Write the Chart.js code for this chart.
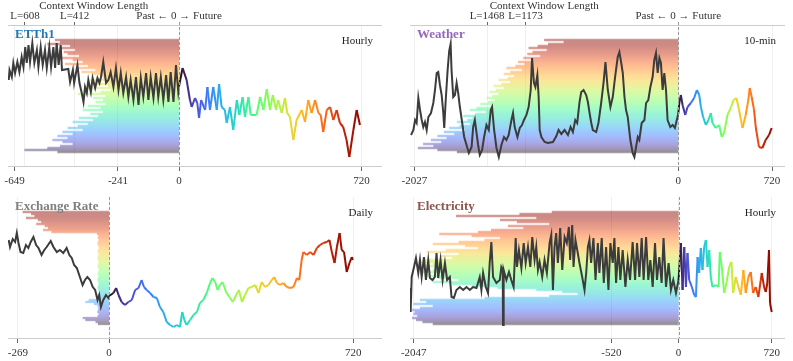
<!DOCTYPE html>
<html>
<head>
<meta charset="utf-8">
<script src="https://cdn.jsdelivr.net/npm/chart.js@4.4.1/dist/chart.umd.min.js"></script>
<style>
  body { margin: 0; background: #fff; }
  #wrap { position: relative; width: 793px; height: 361px; overflow: hidden; }
  canvas { position: absolute; }
</style>
</head>
<body>
<div id="wrap">
  <canvas id="c1" width="396" height="190" style="left:0;top:0"></canvas>
  <canvas id="c2" width="397" height="190" style="left:396px;top:0"></canvas>
  <canvas id="c3" width="396" height="181" style="left:0;top:180px"></canvas>
  <canvas id="c4" width="397" height="181" style="left:396px;top:180px"></canvas>
</div>
<script>
// ---- data: [time step, level] ----
const ettPast = [[-672,86],[-669,96],[-660,89],[-654,103],[-647,93],[-638,104],[-630,94],[-621,109],[-614,99],[-607,119],[-601,103],[-594,121],[-588,104],[-579,123],[-571,103],[-561,116],[-555,99],[-546,119],[-538,101],[-529,116],[-522,98],[-512,119],[-505,99],[-496,119],[-489,98],[-483,123],[-475,101],[-467,121],[-462,96],[-437,97],[-430,84],[-419,96],[-414,83],[-401,101],[-393,83],[-384,73],[-377,64],[-371,79],[-364,73],[-358,86],[-348,74],[-341,88],[-331,78],[-322,88],[-314,83],[-308,89],[-299,104],[-288,83],[-279,86],[-270,94],[-259,79],[-249,98],[-239,76],[-230,93],[-220,73],[-209,89],[-200,69],[-191,86],[-180,66],[-170,89],[-160,61],[-151,88],[-141,69],[-130,93],[-121,66],[-112,89],[-101,68],[-91,93],[-82,69],[-72,89],[-62,66],[-51,91],[-42,64],[-33,94],[-22,64],[-12,101],[-3,74],[0,80]];
const ettFuture = [[0,80],[14,98],[30,86],[43,66],[50,59],[63,68],[72,63],[79,48],[87,66],[103,56],[112,79],[122,56],[135,79],[149,56],[158,82],[168,59],[181,56],[188,43],[201,59],[214,36],[228,66],[238,51],[251,69],[260,49],[274,69],[283,51],[306,51],[320,69],[333,56],[346,77],[359,56],[370,71],[383,56],[391,66],[405,53],[418,68],[427,53],[438,49],[451,26],[464,46],[484,56],[497,44],[510,66],[523,53],[537,66],[550,53],[559,51],[569,34],[583,56],[596,59],[609,46],[622,56],[635,43],[648,39],[661,26],[672,9],[688,36],[701,56],[714,41]];
const ettRows = [490,470,520,430,470,410,455,440,395,465,420,380,450,360,400,330,385,345,310,300,350,290,330,280,360,270,310,400,290,340,300,330,290,360,310,380,300,350,320,395,340,420,360,400,440,380,460,420,480,440,500,460,420,470,520,610,480];
const ettTicks = [-649, -241, 0, 720];
const ettTopTicks = [-608, -412, 0];

const weatherPast = [[-2052,31],[-2034,36],[-2021,46],[-2009,43],[-1996,68],[-1983,56],[-1970,46],[-1958,39],[-1945,44],[-1932,36],[-1919,49],[-1899,53],[-1881,63],[-1868,76],[-1855,93],[-1843,94],[-1830,81],[-1817,71],[-1805,54],[-1797,38],[-1787,63],[-1771,96],[-1759,115],[-1748,122],[-1741,96],[-1728,69],[-1715,71],[-1702,83],[-1690,73],[-1677,59],[-1659,43],[-1644,29],[-1626,21],[-1608,13],[-1587,19],[-1575,39],[-1562,46],[-1549,33],[-1537,21],[-1524,11],[-1506,16],[-1491,29],[-1473,41],[-1455,36],[-1440,56],[-1430,59],[-1414,36],[-1396,18],[-1378,9],[-1358,21],[-1338,29],[-1320,26],[-1302,31],[-1281,46],[-1269,53],[-1256,39],[-1235,29],[-1217,38],[-1200,41],[-1185,46],[-1166,51],[-1149,59],[-1133,76],[-1123,108],[-1108,83],[-1097,79],[-1082,91],[-1072,69],[-1064,36],[-1051,29],[-1026,24],[-1001,23],[-962,24],[-936,30],[-919,36],[-898,32],[-873,36],[-847,31],[-827,39],[-809,34],[-791,46],[-776,43],[-758,64],[-745,74],[-727,76],[-707,71],[-694,64],[-681,53],[-668,43],[-656,36],[-630,34],[-613,43],[-592,63],[-574,83],[-559,104],[-541,76],[-521,59],[-503,69],[-485,89],[-465,109],[-452,114],[-439,104],[-426,93],[-413,69],[-401,56],[-388,49],[-368,26],[-350,13],[-337,9],[-324,19],[-311,29],[-299,26],[-281,43],[-260,46],[-247,63],[-230,66],[-214,79],[-197,89],[-184,106],[-171,113],[-158,93],[-145,108],[-133,103],[-120,76],[-107,93],[-94,76],[-82,46],[-61,39],[-43,41],[-26,38],[0,52]];
const weatherFuture = [[0,52],[8,63],[20,71],[33,61],[54,51],[71,59],[97,63],[122,68],[143,76],[161,71],[174,59],[191,49],[212,41],[232,46],[250,53],[263,43],[288,38],[314,41],[334,29],[352,33],[378,51],[403,58],[424,66],[447,68],[467,56],[493,38],[518,51],[538,66],[549,78],[564,69],[582,56],[595,39],[620,19],[646,18],[671,26],[697,31],[717,38]];
const weatherRows = [1030,880,1000,1080,1150,1010,1120,1160,1060,1190,1120,1230,1180,1250,1320,1200,1290,1340,1260,1310,1380,1290,1360,1420,1340,1400,1450,1380,1430,1470,1410,1460,1520,1440,1550,1600,1480,1560,1650,1580,1620,1700,1600,1680,1760,1640,1800,1720,1850,1780,1900,1820,1960,1880,2000,1850,1700];
const weatherTicks = [-2027, 0, 720];
const weatherTopTicks = [-1468, -1173, 0];

const exchangePast = [[-296,98],[-292,91],[-284,99],[-277,96],[-272,105],[-267,95],[-261,86],[-253,85],[-245,93],[-238,90],[-231,96],[-223,101],[-215,93],[-208,90],[-199,83],[-191,88],[-184,91],[-172,97],[-164,91],[-154,86],[-145,88],[-135,85],[-125,90],[-117,83],[-110,80],[-103,73],[-95,70],[-86,61],[-78,53],[-71,58],[-64,61],[-56,58],[-48,51],[-41,48],[-34,38],[-29,43],[-24,31],[-17,38],[-9,43],[-2,40],[0,42]];
const exchangeFuture = [[0,42],[13,45],[21,50],[28,43],[37,36],[47,33],[57,36],[67,38],[77,48],[87,50],[96,58],[103,51],[111,48],[121,45],[131,41],[141,40],[150,31],[160,26],[170,16],[180,13],[190,11],[200,13],[209,11],[216,26],[222,18],[229,13],[239,18],[249,23],[259,26],[268,35],[278,38],[288,45],[298,55],[305,60],[313,56],[320,48],[327,53],[335,56],[345,46],[355,41],[365,36],[375,43],[383,48],[392,36],[401,43],[411,50],[421,51],[431,53],[441,45],[450,56],[460,51],[470,53],[480,58],[487,61],[495,55],[504,53],[514,55],[524,51],[534,50],[544,51],[554,60],[561,58],[568,78],[573,86],[583,83],[593,86],[603,83],[613,90],[622,93],[632,95],[642,96],[650,98],[657,86],[665,75],[672,91],[680,105],[686,88],[693,86],[701,66],[709,75],[716,81],[719,78]];
const exchangeRows = [255,230,220,245,210,200,215,190,180,195,170,36,32,34,31,33,35,32,30,33,34,31,32,35,33,31,32,34,33,30,32,34,31,33,35,32,31,33,34,32,30,33,35,31,60,70,45,34,32,33,35,31,34,78,70,40,33];
const exchangeTicks = [-269, 0, 720];

const elecPast = [[-2074,50],[-2071,26],[-2063,61],[-2045,71],[-2030,80],[-2012,65],[-1999,78],[-1986,61],[-1968,81],[-1953,58],[-1935,78],[-1922,60],[-1902,58],[-1884,61],[-1871,85],[-1858,60],[-1840,78],[-1824,58],[-1806,75],[-1789,58],[-1768,61],[-1755,41],[-1737,40],[-1717,48],[-1691,51],[-1665,48],[-1639,51],[-1614,48],[-1588,51],[-1562,50],[-1537,61],[-1524,48],[-1511,65],[-1490,51],[-1473,45],[-1460,75],[-1447,96],[-1434,61],[-1408,55],[-1382,58],[-1370,71],[-1359,68],[-1357,13],[-1352,68],[-1331,58],[-1311,66],[-1293,58],[-1275,51],[-1259,100],[-1249,71],[-1234,88],[-1215,70],[-1197,95],[-1182,75],[-1164,91],[-1146,71],[-1131,101],[-1113,78],[-1100,91],[-1087,68],[-1074,76],[-1054,61],[-1036,78],[-1018,65],[-997,95],[-984,103],[-971,48],[-959,91],[-946,105],[-933,75],[-915,110],[-899,68],[-881,101],[-864,95],[-848,111],[-838,78],[-822,113],[-812,71],[-797,98],[-779,85],[-766,75],[-745,61],[-727,48],[-714,65],[-701,91],[-689,98],[-676,75],[-658,100],[-642,58],[-624,95],[-612,65],[-594,100],[-578,55],[-560,91],[-542,48],[-527,95],[-509,75],[-496,100],[-483,55],[-465,91],[-450,58],[-432,88],[-411,51],[-393,78],[-375,58],[-355,96],[-336,58],[-321,95],[-303,61],[-285,100],[-270,58],[-251,101],[-234,58],[-218,78],[-200,51],[-182,95],[-167,58],[-149,81],[-131,55],[-116,100],[-97,51],[-77,75],[-59,48],[-41,58],[-20,45],[0,58]];
const elecFuture = [[0,58],[18,95],[31,48],[44,91],[57,51],[69,85],[82,58],[103,51],[121,43],[134,41],[147,81],[159,65],[172,90],[185,68],[198,91],[211,98],[224,71],[237,88],[249,61],[262,51],[288,53],[309,51],[319,86],[334,71],[352,45],[370,55],[391,71],[409,76],[422,45],[442,61],[463,51],[481,43],[501,68],[519,45],[540,61],[558,66],[576,45],[596,51],[617,41],[643,65],[661,51],[674,46],[686,55],[699,88],[707,35],[720,26]];
const elecRows = [980,1230,1720,1100,1380,1250,1000,1320,1200,1450,1550,1850,1600,1380,1500,1700,1900,1650,1550,1800,1950,1700,1850,1750,1980,2000,1900,1950,1850,1900,2000,1800,1950,1850,1700,1900,1750,1600,1400,1100,900,780,1000,1500,2000,1950,2050,1900,2000,2060,2040,2050,2020,2060,2030,1980,1900];
const elecTicks = [-2047, -520, 0, 720];

const HORIZON = 720;
const ROW_TOP = 126, ROW_STEP = 2;

Chart.defaults.font.family = "'Liberation Serif', 'DejaVu Serif', serif";
Chart.defaults.font.size = 11;
Chart.defaults.color = '#333';

// turbo colormap (polynomial approximation)
function turbo(t) {
    t = Math.min(1, Math.max(0, t));
    const r = 34.61 + t * (1172.33 - t * (10793.56 - t * (33300.12 - t * (38394.49 - t * 14825.05))));
    const g = 23.31 + t * (557.33 + t * (1225.33 - t * (3574.96 - t * (1073.77 + t * 707.56))));
    const b = 27.2 + t * (3211.1 - t * (15327.97 - t * (27814 - t * (22569.18 - t * 6838.66))));
    return [r, g, b].map(c => Math.round(Math.min(255, Math.max(0, c))));
}
function rgba(c, a) { return `rgba(${c[0]},${c[1]},${c[2]},${a})`; }

function rowPoints(lengths) {
    const pts = [];
    lengths.forEach((len, i) => {
        const y = ROW_TOP - i * ROW_STEP;
        pts.push({ x: -len, y: y }, { x: 0, y: y }, { x: 0, y: NaN });
    });
    return pts;
}

const decor = {
    id: 'decor',
    afterDatasetsDraw(chart, args, o) {
        const { ctx, chartArea: a } = chart;
        const x0 = Math.round(chart.scales.x.getPixelForValue(0)) + 0.5;
        ctx.save();
        ctx.strokeStyle = '#9a9a9a';
        ctx.lineWidth = 1;
        ctx.setLineDash([3, 2]);
        ctx.beginPath();
        ctx.moveTo(x0, o.context ? a.top - 3 : a.top);
        ctx.lineTo(x0, a.bottom);
        ctx.stroke();
        ctx.setLineDash([]);

        ctx.textBaseline = 'middle';
        ctx.font = "bold 13px 'Liberation Serif'";
        ctx.fillStyle = o.color;
        ctx.textAlign = 'left';
        ctx.fillText(o.name, a.left + 7, a.top + 10);

        ctx.font = "11px 'Liberation Serif'";
        ctx.fillStyle = '#222';
        ctx.textAlign = 'right';
        ctx.fillText(o.freq, a.right - 8, a.top + 16);

        if (o.context) {
            ctx.fillStyle = '#333';
            ctx.textAlign = 'center';
            ctx.fillText('Context Window Length', (a.left + x0) / 2, 6);
        }
        ctx.restore();
    }
};

function makePanel(p) {
    const n = p.rows.length;
    const scales = {
        x: {
            type: 'linear', position: 'bottom', min: p.min, max: p.max,
            afterBuildTicks: s => { s.ticks = p.ticks.map(v => ({ value: v })); },
            afterFit: s => { s.height = p.bottomH; },
            ticks: { autoSkip: false, maxRotation: 0, padding: 4, color: '#333',
                     callback: v => String(v) },
            grid: { color: '#efefef', tickColor: '#666', tickLength: 5 },
            border: { color: '#cccccc' }
        },
        y: { display: false, min: 0, max: 141 }
    };
    if (p.topTicks) {
        scales.xTop = {
            type: 'linear', position: 'top', min: p.min, max: p.max,
            afterBuildTicks: s => { s.ticks = p.topTicks.map(v => ({ value: v })); },
            afterFit: s => { s.height = 25; },
            ticks: { autoSkip: false, maxRotation: 0, padding: -1, color: '#333',
                     callback: v => v === 0 ? 'Past \u2190 0 \u2192 Future' : 'L=' + (-v) },
            grid: { color: '#efefef', tickColor: '#666', tickLength: 3 },
            border: { color: '#cccccc' }
        };
    }
    new Chart(document.getElementById(p.id).getContext('2d'), {
        type: 'line',
        data: {
            datasets: [
                {
                    data: rowPoints(p.rows), order: 3,
                    borderWidth: 2.3, pointRadius: 0, spanGaps: false,
                    borderColor: 'rgba(200,200,200,0.4)',
                    segment: {
                        borderColor: c => rgba(turbo(1 - ((ROW_TOP - c.p0.parsed.y) / ROW_STEP) / (n - 1)), 0.42)
                    }
                },
                {
                    data: p.past, order: 2,
                    borderColor: '#3c3c3c', borderWidth: 2, pointRadius: 0, tension: 0
                },
                {
                    data: p.future, order: 1,
                    borderWidth: 2, pointRadius: 0, tension: 0,
                    borderColor: rgba(turbo(0), 1),
                    segment: { borderColor: c => rgba(turbo(c.p0.parsed.x / HORIZON), 1) }
                }
            ]
        },
        options: {
            responsive: false, animation: false,
            layout: { padding: p.pad },
            plugins: {
                legend: { display: false }, tooltip: { enabled: false },
                decor: { name: p.name, color: p.color, freq: p.freq, context: !!p.topTicks }
            },
            scales: scales
        },
        plugins: [decor]
    });
}

makePanel({ id: 'c1', name: 'ETTh1', color: '#1f77b4', freq: 'Hourly', past: ettPast, future: ettFuture,
    rows: ettRows, ticks: ettTicks, topTicks: ettTopTicks, min: -675, max: 797,
    pad: { left: 8, right: 15, top: 0, bottom: 0 }, bottomH: 24 });
makePanel({ id: 'c2', name: 'Weather', color: '#9467bd', freq: '10-min', past: weatherPast, future: weatherFuture,
    rows: weatherRows, ticks: weatherTicks, topTicks: weatherTopTicks, min: -2060, max: 812,
    pad: { left: 14, right: 9, top: 0, bottom: 0 }, bottomH: 24 });
makePanel({ id: 'c3', name: 'Exchange Rate', color: '#7f7f7f', freq: 'Daily', past: exchangePast, future: exchangeFuture,
    rows: exchangeRows, ticks: exchangeTicks, min: -298, max: 802,
    pad: { left: 8, right: 15, top: 17, bottom: 0 }, bottomH: 23 });
makePanel({ id: 'c4', name: 'Electricity', color: '#8c564b', freq: 'Hourly', past: elecPast, future: elecFuture,
    rows: elecRows, ticks: elecTicks, min: -2076, max: 815,
    pad: { left: 14, right: 9, top: 17, bottom: 0 }, bottomH: 23 });
</script>
</body>
</html>
